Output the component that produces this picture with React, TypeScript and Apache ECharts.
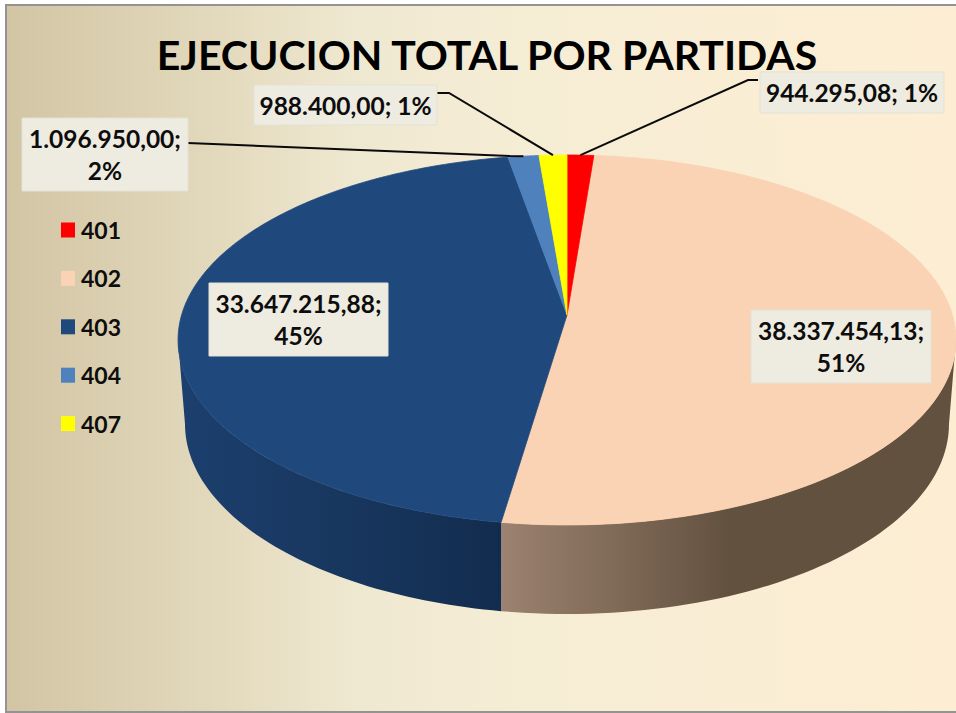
import React, { useEffect, useRef } from "react";
import * as echarts from "echarts";

const titleText = "EJECUCION TOTAL POR PARTIDAS";
const categories = ["401", "402", "403", "404", "407"];
const values = [944295.08, 38337454.13, 33647215.88, 1096950.0, 988400.0];
const percentLabels = ["1%", "51%", "45%", "2%", "1%"];
const labelSeparators = ["; ", ";\n", ";\n", ";\n", "; "];
const colors = ["#ff0000", "#fad2b4", "#1f497d", "#4f81bd", "#ffff00"];
// label boxes: x, y, w, h
const labelBoxes = [
  [760, 72, 184, 41],
  [254, 85, 183, 40],
  [209, 283, 179, 73],
  [22, 118, 166, 73],
  [751, 310, 180, 73],
];
const boxBySeries = [labelBoxes[0], labelBoxes[4], labelBoxes[2], labelBoxes[3], labelBoxes[1]];
// elbows of the leader lines (only the small slices have them)
const leaderElbows: (number[][] | null)[] = [
  [[758, 80], [748, 80]],
  null,
  null,
  [[188, 143], [510, 156]],
  [[437, 93], [449, 93]],
];
const wallColors = [
  null,
  { x: 502, x2: 956, stops: [[0, "#9c8270"], [0.5, "#63513f"], [1, "#63513f"]] },
  { x: 178, x2: 502, stops: [[0, "#1c3f6e"], [0.5, "#18375f"], [1, "#122c4e"]] },
  null,
  null,
];

const FONT = "Lato, 'Open Sans', sans-serif";
const total = values.reduce((a, b) => a + b, 0);

// projection of the round pie top onto the screen
const cx = 567;
const apexY = 315;
const scaleU = 385.4;
const scaleV = 181.6;
const persp = 0.135;
const rimCenterY = 340;
// lower rim of the pie
const lowCY = 424;
const lowRX = 382;
const lowRY = 190;

const project = (deg: number, r = 1) => {
  const a = (deg * Math.PI) / 180;
  const u = Math.sin(a) * r;
  const v = Math.cos(a) * r;
  const d = 1 + persp * v;
  return [cx + (scaleU * u) / d, apexY - (scaleV * v) / d];
};
const sideDeg =
  (Math.acos(-(rimCenterY - apexY) / (scaleV + persp * (rimCenterY - apexY))) * 180) / Math.PI;

const arc = (a: number, b: number) => {
  const n = Math.max(2, Math.ceil(Math.abs(b - a)));
  const pts: number[][] = [];
  for (let i = 0; i <= n; i++) pts.push(project(a + ((b - a) * i) / n));
  return pts;
};
const lowAngle = (x: number) => Math.acos(Math.max(-1, Math.min(1, (x - cx) / lowRX)));
const lowArc = (x1: number, x2: number) => {
  const t1 = lowAngle(x1);
  const t2 = lowAngle(x2);
  const n = 60;
  const pts: number[][] = [];
  for (let i = 0; i <= n; i++) {
    const t = t1 + ((t2 - t1) * i) / n;
    pts.push([cx + lowRX * Math.cos(t), lowCY + lowRY * Math.sin(t)]);
  }
  return pts;
};

const fmt = (v: number) => {
  const [i, d] = v.toFixed(2).split(".");
  return i.replace(/\B(?=(\d{3})+(?!\d))/g, ".") + "," + d;
};

const makeRender = (idx: number) => () => {
  const before = values.slice(0, idx).reduce((a, b) => a + b, 0);
  const start = (before / total) * 360;
  const end = ((before + values[idx]) / total) * 360;
  const mid = (start + end) / 2;
  const children: any[] = [];

  const w0 = Math.max(start, sideDeg);
  const w1 = Math.min(end, 360 - sideDeg);
  const wc = wallColors[idx];
  if (wc && w1 > w0) {
    const top = arc(w0, w1);
    const xa = top[0][0];
    const xb = top[top.length - 1][0];
    const low = lowArc(w1 >= 360 - sideDeg ? 0 : xb, w0 <= sideDeg ? 2000 : xa);
    children.push({
      type: "polygon",
      shape: { points: top.concat(low) },
      style: {
        fill: {
          type: "linear",
          x: wc.x,
          y: 0,
          x2: wc.x2,
          y2: 0,
          global: true,
          colorStops: wc.stops.map((s) => ({ offset: s[0], color: s[1] })),
        },
      },
      z2: 1,
    });
  }

  children.push({
    type: "polygon",
    shape: { points: [[cx, apexY], ...arc(start, end)] },
    style: { fill: colors[idx], stroke: colors[idx], lineWidth: 0.8 },
    z2: 2 + (idx === 0 || idx === 4 ? 1 : 0),
  });

  const elbows = leaderElbows[idx];
  if (elbows) {
    children.push({
      type: "polyline",
      shape: { points: [...elbows, project(mid)] },
      style: { stroke: "#0a0a0a", lineWidth: 2, fill: "none" },
      z2: 5,
    });
  }

  const [bx, by, bw, bh] = boxBySeries[idx];
  children.push({
    type: "rect",
    shape: { x: bx, y: by, width: bw, height: bh },
    style: { fill: "#eeebe0", stroke: "#e4e1d6", lineWidth: 1 },
    z2: 6,
  });
  children.push({
    type: "text",
    style: {
      text: fmt(values[idx]) + labelSeparators[idx] + percentLabels[idx],
      x: bx + bw / 2,
      y: by + bh / 2,
      align: "center",
      verticalAlign: "middle",
      fill: "#0d0d0d",
      fontFamily: FONT,
      fontWeight: "bold",
      fontSize: 24.5,
      lineHeight: 32,
    },
    z2: 7,
  });
  return { type: "group", children };
};

export default function App() {
  const ref = useRef<HTMLDivElement>(null);
  useEffect(() => {
    const chart = echarts.init(ref.current!, null, { renderer: "svg" });
    chart.setOption({
      animation: false,
      title: {
        text: titleText,
        left: 482,
        top: 29,
        textAlign: "center",
        textStyle: { fontFamily: FONT, fontWeight: "bold", fontSize: 41, color: "#000" },
      },
      legend: {
        orient: "vertical",
        left: 56,
        top: 213,
        data: categories,
        icon: "rect",
        itemWidth: 14,
        itemHeight: 15,
        itemGap: 24.4,
        selectedMode: false,
        textStyle: {
          fontFamily: FONT,
          fontWeight: "bold",
          fontSize: 23,
          color: "#0d0d0d",
          lineHeight: 24,
          padding: [0, 0, 0, 1],
        },
      },
      graphic: [
        {
          type: "rect",
          z: -1,
          shape: { x: 6, y: 5, width: 960, height: 707 },
          style: {
            stroke: "#939393",
            lineWidth: 2,
            fill: {
              type: "linear",
              x: 0,
              y: 0,
              x2: 1,
              y2: 0,
              colorStops: [
                { offset: 0, color: "#d2c5a4" },
                { offset: 0.2, color: "#e1d7ba" },
                { offset: 0.36, color: "#efe8d0" },
                { offset: 0.55, color: "#f6edd5" },
                { offset: 1, color: "#fdeed3" },
              ],
            },
          },
        },
      ],
      series: categories.map((name, i) => ({
        type: "custom",
        name,
        coordinateSystem: "none",
        silent: true,
        itemStyle: { color: colors[i] },
        data: [[values[i]]],
        renderItem: makeRender(i),
      })),
    });
    return () => chart.dispose();
  }, []);
  return (
    <div
      ref={ref}
      style={{ position: "absolute", left: 0, top: 0, width: 956, height: 713 }}
    />
  );
}
